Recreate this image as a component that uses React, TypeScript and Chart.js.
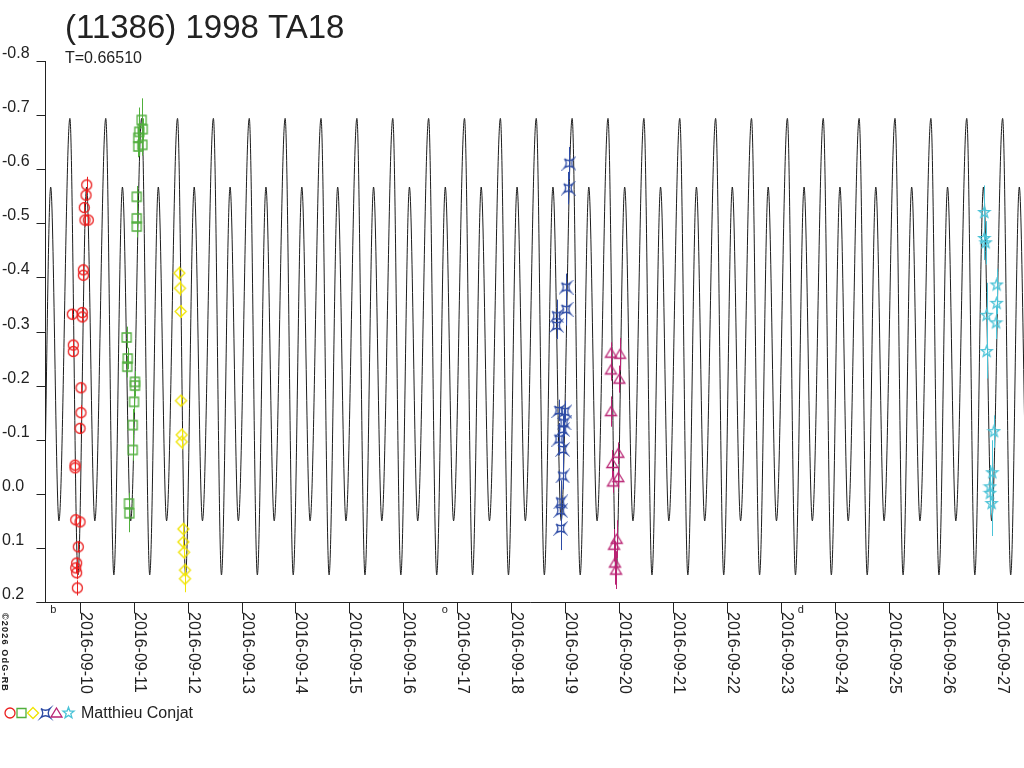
import React, { useEffect, useRef } from 'react';
import Chart from 'chart.js/auto';

// time axis: days after 2016-09-10 00:00 UT
const dayLabels = [
  '2016-09-10', '2016-09-11', '2016-09-12', '2016-09-13', '2016-09-14', '2016-09-15',
  '2016-09-16', '2016-09-17', '2016-09-18', '2016-09-19', '2016-09-20', '2016-09-21',
  '2016-09-22', '2016-09-23', '2016-09-24', '2016-09-25', '2016-09-26', '2016-09-27',
];
const yTicks = [-0.8, -0.7, -0.6, -0.5, -0.4, -0.3, -0.2, -0.1, 0.0, 0.1, 0.2];
const yTickLabels = ['-0.8', '-0.7', '-0.6', '-0.5', '-0.4', '-0.3', '-0.2', '-0.1', '0.0', '0.1', '0.2'];

// moon phase marks under the axis
const moonDays = [-0.49, 6.77, 13.37];
const moonGlyphs = ['b', 'o', 'd'];

// fitted light curve, one rotation (phase 0 = lower maximum)
const PERIOD = 0.6651;
const EPOCH = -0.5376;
const shapePhase = [0, 0.23, 0.535, 0.76];
const shapeMag = [-0.567, 0.05, -0.694, 0.15];

// observing sessions (Matthieu Conjat)
const s1Days = [0.130, 0.117, 0.085, 0.098, 0.159, 0.067, 0.067, -0.137, 0.048, 0.048, -0.119, -0.119, 0.024, 0.024, 0.006, -0.087, -0.087, -0.074, 0.006, -0.026, -0.056, -0.074, -0.056, -0.044];
const s1Mags = [-0.571, -0.552, -0.529, -0.506, -0.506, -0.414, -0.404, -0.332, -0.335, -0.327, -0.275, -0.263, -0.196, -0.150, -0.121, -0.053, -0.048, 0.048, 0.052, 0.098, 0.128, 0.137, 0.146, 0.174];
const s1Errs = [0.015, 0.010, 0.010, 0.012, 0.010, 0.010, 0.010, 0.010, 0.010, 0.010, 0.010, 0.010, 0.010, 0.014, 0.010, 0.010, 0.010, 0.010, 0.010, 0.010, 0.010, 0.010, 0.012, 0.014];

const s2Days = [1.149, 1.168, 1.105, 1.086, 1.161, 1.086, 1.057, 1.057, 1.057, 0.871, 0.890, 0.882, 1.025, 1.025, 1.007, 0.983, 0.983, 0.914, 0.920];
const s2Mags = [-0.691, -0.674, -0.669, -0.658, -0.645, -0.642, -0.549, -0.509, -0.494, -0.289, -0.250, -0.235, -0.207, -0.200, -0.170, -0.127, -0.081, 0.018, 0.036];
const s2Errs = [0.040, 0.020, 0.045, 0.020, 0.020, 0.020, 0.020, 0.030, 0.020, 0.020, 0.020, 0.020, 0.020, 0.020, 0.020, 0.030, 0.020, 0.020, 0.035];

const s3Days = [1.847, 1.859, 1.872, 1.878, 1.891, 1.891, 1.921, 1.921, 1.934, 1.952, 1.952];
const s3Mags = [-0.408, -0.380, -0.337, -0.172, -0.109, -0.096, 0.065, 0.089, 0.108, 0.141, 0.157];
const s3Errs = [0.012, 0.014, 0.012, 0.010, 0.012, 0.014, 0.010, 0.012, 0.012, 0.012, 0.025];

const s4Days = [9.071, 9.058, 9.016, 9.016, 8.843, 8.843, 8.886, 8.997, 8.979, 8.954, 8.886, 8.954, 8.954, 8.917, 8.917, 8.917];
const s4Mags = [-0.611, -0.565, -0.382, -0.341, -0.329, -0.311, -0.154, -0.152, -0.131, -0.119, -0.101, -0.082, -0.033, 0.015, 0.031, 0.064];
const s4Errs = [0.030, 0.030, 0.025, 0.030, 0.030, 0.025, 0.020, 0.020, 0.025, 0.025, 0.030, 0.030, 0.025, 0.040, 0.035, 0.040];

const s5Days = [9.850, 10.017, 9.850, 10.004, 9.850, 9.985, 9.874, 9.985, 9.887, 9.956, 9.906, 9.924, 9.943];
const s5Mags = [-0.260, -0.258, -0.229, -0.212, -0.152, -0.075, -0.056, -0.030, -0.022, 0.084, 0.095, 0.128, 0.141];
const s5Errs = [0.020, 0.030, 0.020, 0.025, 0.028, 0.020, 0.025, 0.020, 0.020, 0.035, 0.030, 0.040, 0.035];

const s6Days = [16.771, 16.771, 16.796, 17.000, 17.000, 16.815, 16.988, 16.815, 16.950, 16.919, 16.876, 16.876, 16.907];
const s6Mags = [-0.520, -0.472, -0.464, -0.386, -0.352, -0.330, -0.316, -0.263, -0.115, -0.039, -0.013, -0.001, 0.018];
const s6Errs = [0.050, 0.040, 0.040, 0.030, 0.020, 0.060, 0.030, 0.050, 0.030, 0.060, 0.040, 0.040, 0.060];

const sessions = [
  { days: s1Days, mags: s1Mags, errs: s1Errs, color: 'rgb(235,30,30)', marker: 'circle' },
  { days: s2Days, mags: s2Mags, errs: s2Errs, color: 'rgb(80,175,60)', marker: 'square' },
  { days: s3Days, mags: s3Mags, errs: s3Errs, color: 'rgb(240,228,0)', marker: 'diamond' },
  { days: s4Days, mags: s4Mags, errs: s4Errs, color: 'rgb(45,75,165)', marker: 'bowtie' },
  { days: s5Days, mags: s5Mags, errs: s5Errs, color: 'rgb(185,35,115)', marker: 'triangle' },
  { days: s6Days, mags: s6Mags, errs: s6Errs, color: 'rgb(75,195,215)', marker: 'star' },
];

const FONT = '"Liberation Sans", Arial, sans-serif';
const INK = '#222';

function drawMarker(ctx: CanvasRenderingContext2D, kind: string, x: number, y: number, color: string) {
  ctx.save();
  ctx.strokeStyle = color;
  ctx.lineWidth = 1.3;
  ctx.beginPath();
  if (kind === 'circle') {
    ctx.arc(x, y, 5, 0, Math.PI * 2);
  } else if (kind === 'square') {
    ctx.rect(x - 4.5, y - 4.5, 9, 9);
  } else if (kind === 'diamond') {
    ctx.moveTo(x, y - 5.5);
    ctx.lineTo(x + 5.5, y);
    ctx.lineTo(x, y + 5.5);
    ctx.lineTo(x - 5.5, y);
    ctx.closePath();
  } else if (kind === 'bowtie') {
    const r = 4.5;
    ctx.moveTo(x - r, y - r);
    ctx.quadraticCurveTo(x, y - r + 3.5, x + r, y - r);
    ctx.quadraticCurveTo(x + r - 3.5, y, x + r, y + r);
    ctx.quadraticCurveTo(x, y + r - 3.5, x - r, y + r);
    ctx.quadraticCurveTo(x - r + 3.5, y, x - r, y - r);
  } else if (kind === 'triangle') {
    ctx.moveTo(x, y - 5);
    ctx.lineTo(x + 5.5, y + 4);
    ctx.lineTo(x - 5.5, y + 4);
    ctx.closePath();
  } else if (kind === 'star') {
    for (let i = 0; i < 10; i++) {
      const a = -Math.PI / 2 + (i * Math.PI) / 5;
      const r = i % 2 ? 2.4 : 5.8;
      const px = x + r * Math.cos(a);
      const py = y + r * Math.sin(a);
      if (i === 0) ctx.moveTo(px, py);
      else ctx.lineTo(px, py);
    }
    ctx.closePath();
  }
  ctx.stroke();
  ctx.restore();
}

function markerImage(kind: string, color: string) {
  const c = document.createElement('canvas');
  c.width = 15;
  c.height = 15;
  const ctx = c.getContext('2d');
  if (ctx) drawMarker(ctx, kind, 7.5, 7.5, color);
  return c;
}

const lightCurvePlugin = {
  id: 'lightCurveDecor',
  beforeDatasetsDraw(chart: any) {
    const { ctx } = chart;
    const xs = chart.scales.x;
    const ys = chart.scales.y;
    const left = Math.round(xs.left) + 0.5;
    const bottom = Math.round(ys.bottom) + 0.5;
    ctx.save();
    ctx.strokeStyle = INK;
    ctx.lineWidth = 1;
    ctx.beginPath();
    ctx.moveTo(left, Math.round(ys.top));
    ctx.lineTo(left, bottom);
    ctx.moveTo(left - 9, bottom);
    ctx.lineTo(xs.right, bottom);
    yTicks.forEach((v) => {
      const py = Math.round(ys.getPixelForValue(v)) + 0.5;
      ctx.moveTo(left - 9, py);
      ctx.lineTo(left, py);
    });
    dayLabels.forEach((_, i) => {
      const px = Math.round(xs.getPixelForValue(i)) + 0.5;
      ctx.moveTo(px, bottom);
      ctx.lineTo(px, bottom + 11);
    });
    ctx.stroke();
    ctx.restore();
  },
  beforeDatasetDraw(chart: any, args: any) {
    const s = sessions[args.index];
    if (!s) return;
    const { ctx } = chart;
    const xs = chart.scales.x;
    const ys = chart.scales.y;
    ctx.save();
    ctx.strokeStyle = s.color;
    ctx.lineWidth = 1;
    ctx.beginPath();
    s.days.forEach((d, i) => {
      const px = Math.round(xs.getPixelForValue(d)) + 0.5;
      ctx.moveTo(px, ys.getPixelForValue(s.mags[i] - s.errs[i]));
      ctx.lineTo(px, ys.getPixelForValue(s.mags[i] + s.errs[i]));
    });
    ctx.stroke();
    ctx.restore();
  },
  afterDraw(chart: any) {
    const { ctx } = chart;
    const xs = chart.scales.x;
    const ys = chart.scales.y;
    ctx.save();
    ctx.fillStyle = INK;
    ctx.textAlign = 'left';
    ctx.textBaseline = 'alphabetic';

    ctx.font = `33px ${FONT}`;
    ctx.fillText('(11386) 1998 TA18', 65, 38);
    ctx.font = `16px ${FONT}`;
    ctx.fillText('T=0.66510', 65, 63);

    yTicks.forEach((v, i) => {
      ctx.fillText(yTickLabels[i], 2, Math.round(ys.getPixelForValue(v)) - 3);
    });

    const bottom = Math.round(ys.bottom);
    dayLabels.forEach((lab, i) => {
      const px = Math.round(xs.getPixelForValue(i));
      ctx.save();
      ctx.translate(px + 1, bottom + 10);
      ctx.rotate(Math.PI / 2);
      ctx.fillText(lab, 0, 0);
      ctx.restore();
    });

    ctx.font = `11px ${FONT}`;
    ctx.textAlign = 'center';
    moonDays.forEach((d, i) => {
      ctx.fillText(moonGlyphs[i], xs.getPixelForValue(d), bottom + 11);
    });

    ctx.textAlign = 'left';
    ctx.save();
    ctx.font = `bold 9px ${FONT}`;
    (ctx as any).letterSpacing = '1.2px';
    ctx.translate(2, 613);
    ctx.rotate(Math.PI / 2);
    ctx.fillText('\u00a92026 OdG-RB', 0, 0);
    ctx.restore();

    const legendX = [10, 21.5, 33, 45.5, 56.5, 68.5];
    sessions.forEach((s, i) => drawMarker(ctx, s.marker, legendX[i], 713, s.color));
    ctx.font = `16px ${FONT}`;
    ctx.fillStyle = INK;
    ctx.fillText('Matthieu Conjat', 81, 718);
    ctx.restore();
  },
};

const App: React.FC = () => {
  const canvasRef = useRef<HTMLCanvasElement>(null);
  const chartRef = useRef<Chart | null>(null);

  useEffect(() => {
    if (!canvasRef.current) return;
    document.body.style.margin = '0';
    if (chartRef.current) chartRef.current.destroy();

    // repeat the one-rotation model over the whole run
    const modelCurve: { x: number; y: number }[] = [];
    for (let k = -2; k <= 28; k++) {
      shapePhase.forEach((p, j) => {
        modelCurve.push({ x: EPOCH + (k + p) * PERIOD, y: shapeMag[j] });
      });
    }

    const pointSets = sessions.map((s) => ({
      type: 'scatter' as const,
      data: s.days.map((d, i) => ({ x: d, y: s.mags[i] })),
      pointStyle: markerImage(s.marker, s.color),
      pointRadius: 6,
      pointHoverRadius: 6,
      showLine: false,
    }));

    chartRef.current = new Chart(canvasRef.current, {
      type: 'scatter',
      data: {
        datasets: [
          ...pointSets,
          {
            type: 'line' as const,
            data: modelCurve,
            borderColor: '#1c1c1c',
            borderWidth: 1,
            pointRadius: 0,
            cubicInterpolationMode: 'monotone',
            fill: false,
          },
        ] as any,
      },
      options: {
        animation: false,
        responsive: true,
        maintainAspectRatio: false,
        layout: { autoPadding: false, padding: { left: 45, top: 61, right: 0, bottom: 166 } },
        scales: {
          x: { type: 'linear', min: -0.6433, max: 17.507, display: false },
          y: { type: 'linear', min: -0.8, max: 0.2, reverse: true, display: false },
        },
        plugins: {
          legend: { display: false },
          tooltip: { enabled: false },
        },
        events: [],
      },
      plugins: [lightCurvePlugin],
    });

    return () => {
      if (chartRef.current) {
        chartRef.current.destroy();
        chartRef.current = null;
      }
    };
  }, []);

  return (
    <div style={{ position: 'relative', width: '1024px', height: '768px', background: '#fff' }}>
      <canvas ref={canvasRef}></canvas>
    </div>
  );
};

export default App;
